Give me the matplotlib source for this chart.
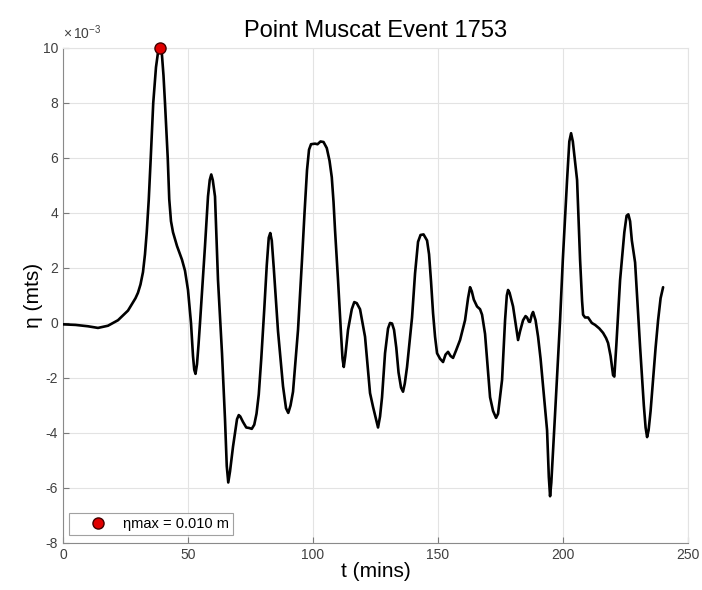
"""
Point Muscat tsunami gauge record, event 1753
"""
import matplotlib
matplotlib.use('Agg')
import matplotlib.pyplot as plt
from matplotlib.ticker import FuncFormatter

# time (mins) and surface elevation (units of 1e-3 m)
t_mins = [0, 5, 10, 14, 18, 22, 26, 29, 30, 31, 32, 32.8, 33.5, 34.3, 35.1,
          36.1, 37.2, 38.1, 38.8, 39.5, 40.2, 40.8, 41.9, 42.5, 43.2, 44,
          45.6, 47.6, 48.8, 50, 51.2, 52, 52.5, 53, 53.6, 54.2, 54.8, 56.8,
          58, 58.7, 59.3, 59.9, 60.8, 62, 63.6, 64.8, 65.5, 66.1, 66.8, 68,
          69.6, 70.3, 70.9, 72, 73.3, 74.5, 75.5, 76.5, 77.4, 78.3, 79.3,
          80.5, 81.5, 82.3, 82.9, 83.5, 84.3, 86, 88, 89.2, 90.1, 91, 92, 94,
          95.6, 96.6, 97.6, 98.4, 99.2, 100.8, 101.8, 103, 104.2, 105.5,
          106.6, 107.5, 108.2, 108.8, 110, 111.2, 111.8, 112.3, 112.9, 114,
          115.5, 116.5, 117.5, 118.8, 120.8, 122.8, 124, 125.2, 126, 126.8,
          127.6, 128.8, 130, 130.8, 131.6, 132.4, 133.3, 134.2, 135.2, 136,
          136.7, 137.6, 139.6, 140.8, 142, 143, 144.2, 145.6, 146.4, 147.2,
          148, 148.8, 149.6, 150.8, 152, 153, 154, 155, 156, 157.2, 158.8,
          160.8, 162, 162.8, 163.5, 164.3, 165.6, 166.8, 167.6, 168.8, 170,
          170.8, 172, 173.2, 174, 174.8, 175.6, 176.3, 176.8, 177.5, 178,
          178.6, 180, 181, 182, 182.8, 184, 185, 185.6, 186.3, 186.8, 187.5,
          188, 189, 190, 191, 192, 193.6, 194.3, 194.8, 195.3, 196, 196.8,
          198.8, 199.9, 201.6, 202.5, 203.2, 203.9, 205.6, 206.8, 207.6, 208,
          208.8, 210, 211.5, 212.8, 214.5, 216, 217.2, 218, 219, 220, 220.5,
          221.3, 222.8, 224.5, 225.4, 226.1, 226.8, 227.5, 228.8, 230.8,
          232.3, 233, 233.6, 234.2, 235, 236, 237, 238, 239, 240]
eta_mm = [-0.05, -0.07, -0.12, -0.18, -0.1, 0.1, 0.45, 0.9, 1.1, 1.4, 1.85,
          2.5, 3.3, 4.47, 6.0, 8.0, 9.3, 9.9, 10.0, 9.85, 9.0, 8.0, 6.0, 4.5,
          3.7, 3.3, 2.8, 2.3, 1.9, 1.2, 0.0, -1.2, -1.7, -1.85, -1.5, -0.8,
          0.0, 2.8, 4.6, 5.2, 5.4, 5.2, 4.6, 1.56, -1.1, -3.5, -5.2, -5.8,
          -5.4, -4.5, -3.5, -3.35, -3.4, -3.6, -3.8, -3.82, -3.85, -3.7, -3.3,
          -2.6, -1.3, 0.5, 2.1, 3.1, 3.27, 3.0, 2.0, -0.3, -2.3, -3.1, -3.27,
          -3.0, -2.5, -0.25, 2.3, 4.0, 5.56, 6.3, 6.5, 6.52, 6.5, 6.6, 6.58,
          6.36, 5.9, 5.3, 4.4, 3.38, 1.56, -0.4, -1.3, -1.6, -1.2, -0.25, 0.5,
          0.76, 0.72, 0.5, -0.5, -2.55, -3.05, -3.5, -3.8, -3.4, -2.7, -1.1,
          -0.2, 0.0, -0.02, -0.25, -0.9, -1.8, -2.35, -2.5, -2.2, -1.6, 0.2,
          1.8, 2.95, 3.2, 3.22, 3.0, 2.5, 1.5, 0.36, -0.5, -1.1, -1.3, -1.42,
          -1.15, -1.05, -1.2, -1.27, -1.0, -0.62, 0.1, 0.9, 1.3, 1.15, 0.85,
          0.6, 0.5, 0.3, -0.4, -1.8, -2.7, -3.2, -3.45, -3.3, -2.7, -2.07,
          -0.8, 0.1, 1.0, 1.2, 1.1, 0.6, 0.0, -0.62, -0.3, 0.1, 0.25, 0.2,
          0.05, 0.04, 0.3, 0.4, 0.1, -0.5, -1.3, -2.3, -3.9, -5.6, -6.3, -5.8,
          -4.6, -3.3, 0.1, 2.3, 5.2, 6.6, 6.9, 6.6, 5.2, 2.3, 0.8, 0.3, 0.2,
          0.2, 0.0, -0.07, -0.2, -0.36, -0.55, -0.73, -1.2, -1.9, -1.95, -0.8,
          1.56, 3.3, 3.9, 3.95, 3.7, 3.0, 2.2, -0.87, -3.0, -3.8, -4.15, -3.9,
          -3.2, -2.07, -0.9, 0.1, 0.9, 1.3]

x_ticks = [0, 50, 100, 150, 200, 250]
y_ticks_mm = [-8, -6, -4, -2, 0, 2, 4, 6, 8, 10]

plt.rcParams['font.family'] = ['Liberation Sans', 'DejaVu Sans']
plt.rcParams['mathtext.fontset'] = 'custom'
plt.rcParams['mathtext.rm'] = 'Liberation Sans'
plt.rcParams['mathtext.it'] = 'Liberation Sans'

eta = [v * 1e-3 for v in eta_mm]
i_max = eta.index(max(eta))

fig = plt.figure(figsize=(7.02, 5.9), dpi=100)
ax = fig.add_axes([0.0897, 0.0797, 0.8905, 0.839])

ax.plot(t_mins, eta, color='black', lw=1.9, solid_joinstyle='round',
        solid_capstyle='round', zorder=3)
ax.plot(t_mins[i_max], eta[i_max], 'o', ms=8, mfc='#e00000', mec='#400000',
        mew=1.0, ls='none', zorder=4, clip_on=False,
        label=f'ηmax = {eta[i_max]:.3f} m')

ax.set_xlim(0, 250)
ax.set_ylim(-8e-3, 10e-3)
ax.set_xticks(x_ticks)
ax.set_yticks([v * 1e-3 for v in y_ticks_mm])
ax.yaxis.set_major_formatter(FuncFormatter(lambda v, p: f'{v * 1e3:.0f}'))
ax.grid(True, color='#e3e3e3', lw=0.8)
ax.set_axisbelow(True)

ax.tick_params(direction='in', length=4, width=0.8, colors='#7a7a7a',
               labelcolor='#404040', labelsize=10)
for side in ['left', 'bottom']:
    ax.spines[side].set_color('#8a8a8a')
for side in ['top', 'right']:
    ax.spines[side].set_color('#e3e3e3')

ax.text(0.0, 1.012, r'$\times\,10^{-3}$', transform=ax.transAxes,
        fontsize=10, color='#404040', ha='left', va='bottom')

ax.set_title('Point Muscat Event 1753', fontsize=17, pad=8)
ax.set_xlabel('t (mins)', fontsize=15, labelpad=0)
ax.set_ylabel('η (mts)', fontsize=15, labelpad=0)

leg = ax.legend(loc='lower left', fontsize=10.5, frameon=True, fancybox=False,
                edgecolor='#8a8a8a', borderpad=0.3, handletextpad=0.0,
                handlelength=3.4, borderaxespad=0.42,
                bbox_to_anchor=(0.0, 0.003))
leg.get_frame().set_linewidth(0.8)

fig.savefig('out.png', dpi=100)
